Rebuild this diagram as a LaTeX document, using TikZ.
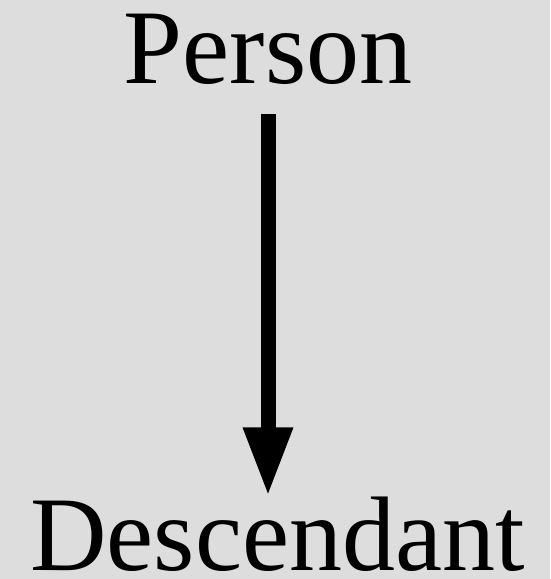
\documentclass[tikz,border=0pt]{standalone}
\usepackage{fontspec}
\setmainfont{Liberation Serif}
\usetikzlibrary{arrows.meta}
\definecolor{bg}{RGB}{221,221,221}
\tikzset{
  label text/.style={inner sep=0pt, outer sep=0pt, anchor=base, font=\fontsize{106}{110}\selectfont},
  link/.style={line width=15pt, -{Triangle[length=69pt,width=46pt]}}
}
\begin{document}
\begin{tikzpicture}[x=1pt,y=1pt]
\fill[bg] (0,0) rectangle (550,579);
\useasboundingbox (0,0) rectangle (550,579);
\node[label text] (person) at (268,495) {Person};
\node[label text] (descendant) at (277.5,9) {Descendant};
\draw[link, shorten <=29pt] (person.south) -- (person.south |- descendant.north);
\end{tikzpicture}
\end{document}
